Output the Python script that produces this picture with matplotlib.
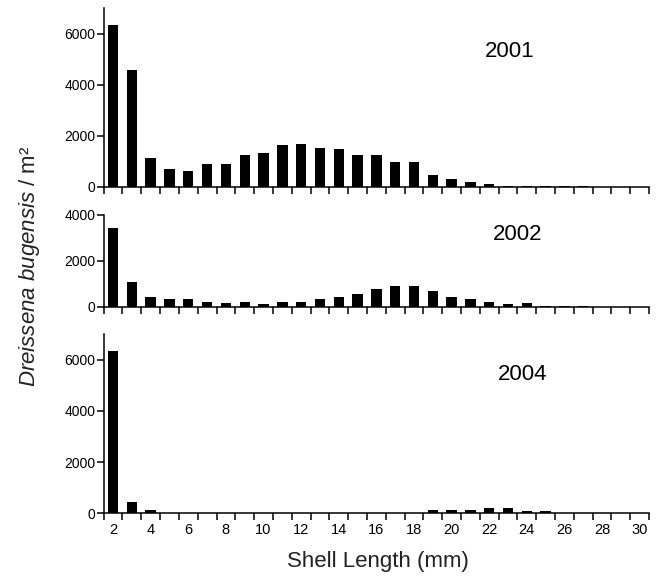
import matplotlib.pyplot as plt
from matplotlib.ticker import FixedLocator, MultipleLocator, NullFormatter

plt.rcParams["font.family"] = ["Liberation Sans", "DejaVu Sans"]
plt.rcParams["mathtext.fontset"] = "custom"
plt.rcParams["mathtext.rm"] = "Liberation Sans"
plt.rcParams["mathtext.it"] = "Liberation Sans:italic"

# shell length classes (mm)
sizes = list(range(2, 31))

# density per m2 for each length class
d2001 = [6350, 4560, 1150, 710, 620, 900, 900, 1240, 1340, 1640, 1680, 1540, 1500, 1250,
         1250, 970, 970, 480, 330, 180, 100, 40, 40, 40, 20, 40, 10, 10, 10]
d2002 = [3450, 1080, 415, 340, 340, 235, 180, 235, 120, 235, 235, 340, 415, 578,
         800, 918, 918, 710, 415, 340, 235, 120, 180, 45, 45, 45, 10, 10, 10]
d2004 = [6330, 430, 140, 25, 25, 25, 25, 25, 25, 25, 25, 25, 25, 25,
         25, 25, 25, 140, 140, 140, 195, 195, 90, 90, 25, 25, 25, 25, 25]

years = ["2001", "2002", "2004"]
ylims = [7000, 4000, 7000]
yticks = [[0, 2000, 4000, 6000], [0, 2000, 4000], [0, 2000, 4000, 6000]]
label_pos = [(23.1, 5300), (23.5, 3170), (23.8, 5430)]

fig = plt.figure(figsize=(6.56, 5.78), dpi=100)
boxes = [
    [0.158, 0.6765, 0.8315, 0.3097],
    [0.158, 0.4689, 0.8315, 0.1592],
    [0.158, 0.1119, 0.8315, 0.3102],
]

for i, (data, year) in enumerate(zip([d2001, d2002, d2004], years)):
    ax = fig.add_axes(boxes[i])
    ax.bar(sizes, data, width=0.55, color="black")
    ax.set_xlim(1.5, 30.5)
    ax.set_ylim(0, ylims[i])
    ax.set_yticks(yticks[i])
    ax.tick_params(axis="y", length=5, width=1.1, pad=1, labelsize=10)
    ax.xaxis.set_minor_locator(FixedLocator([x + 0.5 for x in range(1, 31)]))
    ax.xaxis.set_major_locator(MultipleLocator(2))
    ax.tick_params(axis="x", which="minor", length=5, width=1.1)
    ax.tick_params(axis="x", which="major", length=0, pad=7, labelsize=10.5)
    if i < 2:
        ax.xaxis.set_major_formatter(NullFormatter())
    for side in ("top", "right"):
        ax.spines[side].set_visible(False)
    for side in ("left", "bottom"):
        ax.spines[side].set_linewidth(1.1)
    ax.text(*label_pos[i], year, fontsize=16, ha="center", va="center")

fig.text(0.045, 0.54, r"$\it{Dreissena\ bugensis}$ / m²", rotation=90,
         fontsize=16, ha="center", va="center", color="#222222")
fig.text(0.576, 0.029, "Shell Length (mm)", fontsize=16, ha="center", va="center",
         color="#222222")

fig.savefig("out.png", dpi=100)
